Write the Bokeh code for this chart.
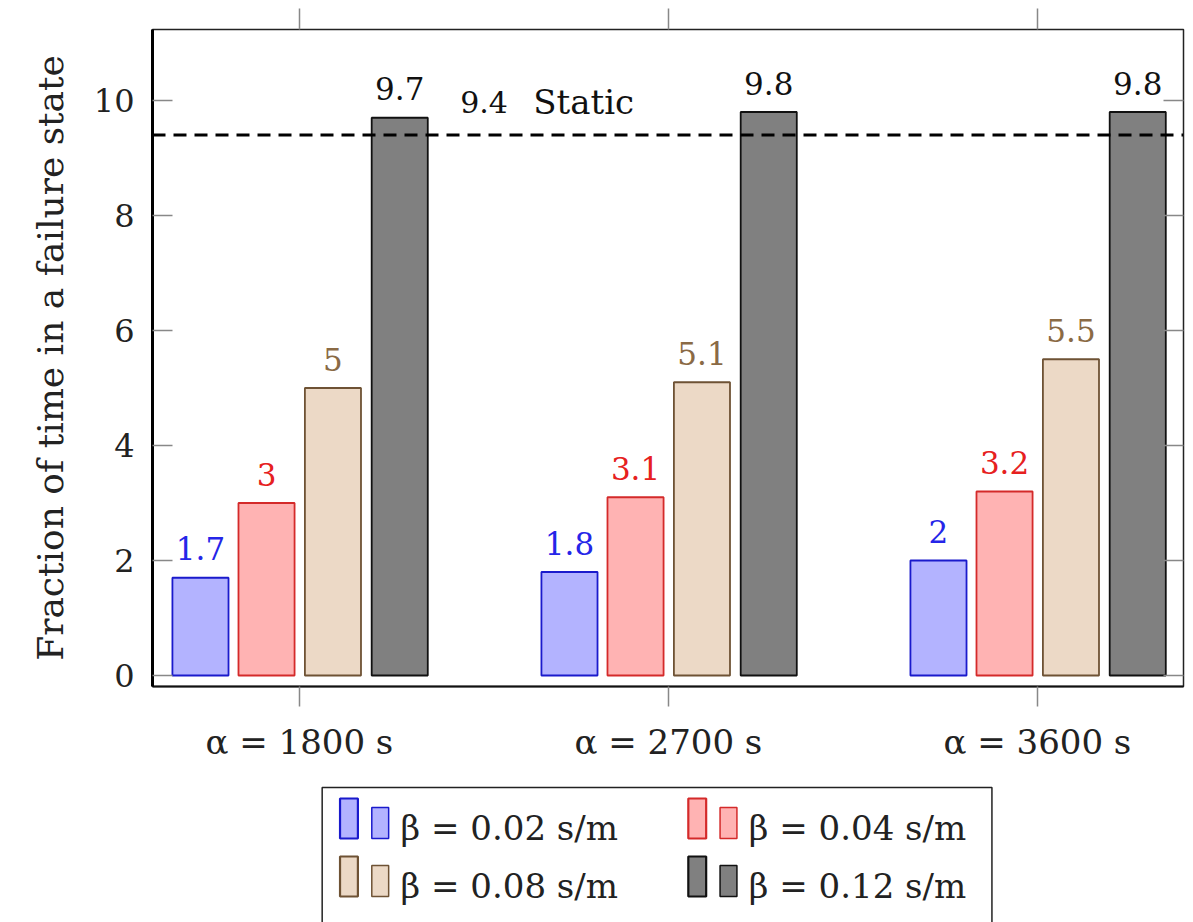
from bokeh.plotting import figure
from bokeh.models import Range1d, LinearAxis, FixedTicker, Span, Label, ColumnDataSource
from bokeh.layouts import column
from bokeh.embed import file_html
from bokeh.resources import INLINE
from bokeh.core.properties import value

# ---------------- data ----------------
groups = ["α = 1800 s", "α = 2700 s", "α = 3600 s"]
beta_labels = ["β = 0.02 s/m", "β = 0.04 s/m", "β = 0.08 s/m", "β = 0.12 s/m"]
beta_002 = [1.7, 1.8, 2.0]
beta_004 = [3.0, 3.1, 3.2]
beta_008 = [5.0, 5.1, 5.5]
beta_012 = [9.7, 9.8, 9.8]
static_value = 9.4
y_ticks = [0, 2, 4, 6, 8, 10]

series = [beta_002, beta_004, beta_008, beta_012]

# ---------------- style ----------------
FONT = "DejaVu Serif"
fills = ["#b3b3ff", "#ffb3b3", "#ecd9c6", "#808080"]
edges = ["#1a1acc", "#d42a2a", "#6e5234", "#111111"]
label_colors = ["#2525e8", "#e62020", "#8a6a45", "#111111"]
offsets = [-0.268, -0.089, 0.091, 0.272]
bar_w = 0.152

p = figure(frame_width=1031, frame_height=657,
           x_range=Range1d(-0.398, 2.396), y_range=Range1d(-0.191, 11.235),
           output_backend="svg", toolbar_location=None,
           min_border_left=152, min_border_top=29, min_border_right=5, min_border_bottom=94)
p.grid.visible = False
p.outline_line_color = "#222222"
p.outline_line_width = 1.5
p.background_fill_color = "white"
p.border_fill_color = "white"

# axes
xa = p.xaxis[0]
xa.ticker = FixedTicker(ticks=list(range(len(groups))))
xa.major_label_overrides = {i: g for i, g in enumerate(groups)}
xa.minor_tick_line_color = None
xa.major_tick_in = 0
xa.major_tick_out = 20
xa.major_tick_line_color = "#888888"
xa.major_tick_line_width = 1.5
xa.axis_line_color = "#111111"
xa.axis_line_width = 2
xa.major_label_standoff = 15
xa.major_label_text_font = FONT
xa.major_label_text_font_size = "34px"
xa.major_label_text_color = "#222222"

ya = p.yaxis[0]
ya.ticker = FixedTicker(ticks=y_ticks)
ya.minor_tick_line_color = None
ya.major_tick_in = 20
ya.major_tick_out = 0
ya.major_tick_line_color = "#888888"
ya.major_tick_line_width = 1.5
ya.axis_line_color = "#000000"
ya.axis_line_width = 3
ya.major_label_standoff = 18
ya.major_label_text_font = FONT
ya.major_label_text_font_size = "32px"
ya.major_label_text_color = "#222222"
ya.axis_label = "Fraction of time in a failure state"
ya.axis_label_text_font = FONT
ya.axis_label_text_font_size = "36px"
ya.axis_label_text_font_style = "normal"
ya.axis_label_text_color = "#222222"
ya.axis_label_standoff = 20

top_ticks = list(range(len(groups)))
top = LinearAxis(ticker=FixedTicker(ticks=top_ticks),
                 major_label_overrides={t: "" for t in top_ticks},
                 major_tick_in=0, major_tick_out=21, major_tick_line_color="#888888",
                 major_tick_line_width=1.5, minor_tick_line_color=None,
                 axis_line_color=None, major_label_standoff=0)
p.add_layout(top, "above")
right = LinearAxis(ticker=FixedTicker(ticks=y_ticks),
                   major_label_overrides={t: "" for t in y_ticks},
                   major_tick_in=20, major_tick_out=0, major_tick_line_color="#888888",
                   major_tick_line_width=1.5, minor_tick_line_color=None,
                   axis_line_color=None, major_label_standoff=0)
p.add_layout(right, "right")

# bars
for k, vals in enumerate(series):
    xs = [i + offsets[k] for i in range(len(vals))]
    src = ColumnDataSource(dict(x=xs, top=vals, txt=[f"{v:g}" for v in vals]))
    p.vbar(x="x", top="top", bottom=0, width=bar_w, source=src,
           fill_color=fills[k], line_color=edges[k], line_width=1.8)
    p.text(x="x", y="top", text="txt", source=src, y_offset=-29,
           text_align="center", text_baseline="alphabetic",
           text_font=value(FONT), text_font_size="31px", text_color=label_colors[k])

# static reference line
p.add_layout(Span(location=static_value, dimension="width", line_color="black",
                  line_width=3, line_dash="13 8"))
p.add_layout(Label(x=0.436, y=static_value, y_offset=33, text=f"{static_value:g}",
                   text_font=FONT, text_font_size="30px", text_color="#111111",
                   text_baseline="alphabetic"))
p.add_layout(Label(x=0.634, y=static_value, y_offset=33, text="Static",
                   text_font=FONT, text_font_size="34px", text_color="#111111",
                   text_baseline="alphabetic"))

# ---------------- legend panel (page-pixel coordinates) ----------------
lg = figure(width=1180, height=142, x_range=Range1d(152, 1183), y_range=Range1d(922, 780),
            x_axis_type=None, y_axis_type=None, output_backend="svg",
            toolbar_location=None, min_border=0)
lg.grid.visible = False
lg.outline_line_color = None
lg.background_fill_color = "white"
lg.border_fill_color = "white"

lg.quad(left=[323], right=[998], top=[787], bottom=[960], fill_color=None,
        line_color="#222222", line_width=1.5)

col_x = [341, 692]
row_bottom = [838, 896]
tall_w, small_gap, small_w, text_gap = 18, 32, 17, 61
tall_h, small_h = 40, 31
for k, name in enumerate(beta_labels):
    c, r = k % 2, k // 2
    x0 = col_x[c]
    yb = row_bottom[r]
    lg.quad(left=[x0], right=[x0 + tall_w], top=[yb - tall_h], bottom=[yb],
            fill_color=fills[k], line_color=edges[k], line_width=2.2)
    lg.quad(left=[x0 + small_gap], right=[x0 + small_gap + small_w], top=[yb - small_h], bottom=[yb],
            fill_color=fills[k], line_color=edges[k], line_width=1.5)
    lg.text(x=[x0 + text_gap], y=[yb - 11], text=[name], text_font=value(FONT),
            text_font_size="34px", text_color="#222222", text_baseline="alphabetic")

layout = column(p, lg)
open("out.html", "w").write(file_html(layout, INLINE))
